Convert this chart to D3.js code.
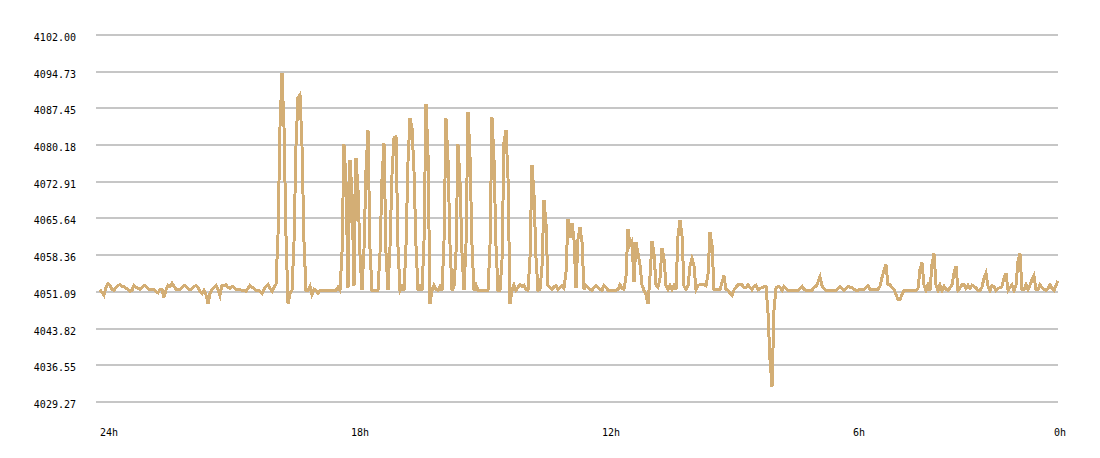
<!DOCTYPE html>
<html>
<head>
<meta charset="utf-8">
<script src="https://cdn.jsdelivr.net/npm/d3@7"></script>
<style>
body { margin: 0; background: #fff; }
</style>
</head>
<body>
<div id="area"></div>
<script>
var width = 1100;
var height = 458;

// one value every ~3 min, oldest first
var values = [
4051.5,4051.0,4050.4,4052.0,4052.7,4052.3,4051.6,4051.4,4052.0,4052.4,4052.5,4052.2,4052.2,4051.8,4051.6,4051.2,4051.4,4052.4,4052.0,4051.8,
4051.6,4052.0,4052.4,4052.2,4051.8,4051.5,4051.6,4051.5,4051.2,4050.9,4051.6,4051.6,4050.0,4051.5,4052.4,4052.2,4052.8,4052.2,4051.6,4051.6,
4051.6,4052.0,4052.4,4052.2,4051.8,4051.5,4051.8,4052.2,4052.3,4052.0,4051.1,4050.7,4051.4,4050.5,4048.8,4050.8,4051.6,4052.0,4052.4,4051.6,
4050.4,4052.4,4052.4,4052.5,4052.0,4051.8,4052.2,4052.0,4051.6,4051.5,4051.5,4051.4,4051.4,4051.2,4051.8,4052.4,4052.0,4051.8,4051.4,4051.4,
4051.2,4050.8,4051.6,4052.2,4052.6,4051.8,4051.2,4052.0,4052.6,4062.4,4083.8,4094.5,4083.8,4062.2,4048.8,4050.8,4051.4,4061.0,4080.0,4089.6,
4090.2,4080.0,4061.0,4051.4,4051.4,4052.2,4050.6,4051.6,4051.4,4050.8,4051.4,4051.4,4051.4,4051.4,4051.4,4051.4,4051.4,4051.4,4051.4,4052.0,
4051.4,4058.8,4080.3,4073.0,4051.8,4077.2,4070.7,4052.2,4077.6,4071.3,4058.5,4051.4,4059.6,4075.2,4083.2,4059.6,4051.4,4051.4,4051.4,4051.4,
4058.8,4073.3,4080.6,4058.8,4051.4,4060.0,4074.3,4081.6,4081.8,4060.0,4051.4,4052.2,4051.4,4060.2,4076.9,4085.5,4083.5,4075.0,4060.2,4051.4,
4052.2,4051.4,4061.0,4088.3,4078.6,4048.7,4051.4,4052.4,4051.6,4051.4,4052.2,4051.4,4061.0,4085.5,4077.3,4060.5,4051.4,4052.2,4058.8,4080.3,
4073.0,4058.8,4051.4,4060.4,4086.7,4078.0,4060.4,4051.4,4052.5,4051.4,4051.4,4051.4,4051.4,4051.4,4051.4,4060.2,4085.7,4077.3,4060.2,4051.4,
4051.4,4057.4,4080.8,4083.2,4073.6,4048.7,4051.4,4052.5,4051.4,4052.0,4052.5,4052.2,4052.4,4051.6,4051.4,4057.9,4076.3,4070.3,4057.9,4051.4,
4051.6,4056.1,4069.3,4064.7,4052.3,4052.0,4051.6,4052.1,4052.3,4051.6,4051.9,4052.3,4051.8,4055.0,4065.5,4061.8,4064.8,4061.5,4051.8,4061.6,
4063.9,4061.0,4051.6,4052.4,4052.0,4051.6,4051.4,4052.0,4052.4,4052.0,4051.6,4051.4,4052.4,4052.0,4051.4,4051.4,4051.4,4051.4,4051.4,4051.6,
4052.5,4051.8,4051.6,4054.2,4063.6,4060.4,4061.1,4053.0,4061.0,4058.7,4056.5,4052.5,4051.4,4050.5,4048.7,4054.2,4061.1,4058.7,4052.4,4052.0,
4053.8,4059.7,4057.7,4052.3,4051.5,4052.3,4051.5,4052.3,4051.5,4062.2,4065.3,4062.2,4052.2,4051.6,4052.3,4056.2,4057.7,4056.2,4051.6,4052.4,
4052.5,4052.5,4052.5,4052.3,4054.5,4062.9,4060.4,4051.6,4051.5,4051.5,4051.5,4053.0,4054.3,4051.6,4051.4,4050.8,4050.4,4051.5,4052.0,4052.5,
4052.5,4052.5,4052.0,4051.9,4052.5,4052.0,4051.5,4052.2,4052.4,4051.5,4051.8,4051.9,4052.1,4052.2,4046.9,4037.6,4032.3,4047.5,4051.9,4052.2,
4052.0,4051.4,4052.2,4051.8,4051.4,4051.4,4051.4,4051.4,4051.4,4051.4,4051.8,4052.2,4051.6,4051.4,4051.4,4051.4,4051.4,4052.0,4052.2,4053.0,
4054.1,4052.3,4051.8,4051.4,4051.4,4051.4,4051.4,4051.4,4051.4,4051.8,4052.2,4051.8,4051.4,4051.8,4052.2,4052.0,4051.9,4051.6,4051.4,4051.4,
4051.6,4051.6,4051.6,4052.0,4052.3,4051.6,4051.5,4051.5,4051.5,4051.6,4052.2,4053.9,4055.4,4056.5,4052.5,4052.5,4051.9,4051.6,4050.6,4049.5,
4049.5,4050.6,4051.4,4051.4,4051.4,4051.4,4051.4,4051.4,4051.4,4051.8,4055.5,4056.9,4052.5,4051.4,4052.5,4051.4,4056.5,4058.7,4052.5,4051.4,
4052.5,4051.4,4052.2,4051.6,4051.4,4051.9,4052.5,4054.8,4056.2,4051.4,4051.9,4052.5,4052.5,4051.8,4052.4,4051.8,4052.4,4052.2,4051.9,4051.4,
4051.4,4052.0,4053.8,4054.8,4052.2,4051.4,4052.3,4052.2,4051.4,4051.8,4051.9,4052.2,4053.8,4054.8,4051.4,4052.0,4052.5,4051.4,4052.4,4057.1,
4058.7,4051.6,4051.5,4052.5,4051.6,4052.4,4053.5,4054.3,4051.5,4051.6,4052.5,4052.0,4051.6,4051.4,4051.8,4052.5,4051.8,4051.4,4052.4,4053.3
];

var yTicks = [4029.27, 4036.55, 4043.82, 4051.09, 4058.36, 4065.64, 4072.91, 4080.18, 4087.45, 4094.73, 4102.00];
var xTickHours = [24, 18, 12, 6, 0];
var xTickLabels = ["24h", "18h", "12h", "6h", "0h"];

var gridLeft = 96, gridRight = 1058;

var y = d3.scaleLinear()
    .domain([4029.27, 4102.00])
    .range([402, 35]);

var x = d3.scaleLinear()
    .domain([0, values.length - 1])
    .range([100, 1058]);

var xHour = d3.scaleLinear()
    .domain([24, 0])
    .range([100, 1104]);

var svg = d3.select("#area").append("svg")
    .attr("width", width)
    .attr("height", height)
    .style("display", "block");

svg.append("rect") // background
    .attr("width", "100%")
    .attr("height", "100%")
    .attr("fill", "#ffffff");

// y axis + grid
var yAxis = svg.append("g")
    .attr("transform", "translate(" + gridLeft + ",0)")
    .call(d3.axisLeft(y)
        .tickValues(yTicks)
        .tickSize(-(gridRight - gridLeft))
        .tickPadding(20)
        .offset(0)
        .tickFormat(d3.format(".2f")));

yAxis.select(".domain").remove();
yAxis.selectAll(".tick line")
    .attr("stroke", "#c6c6c6")
    .attr("stroke-width", 2)
    .style("shape-rendering", "crispEdges");
yAxis.selectAll(".tick text")
    .attr("dy", "0.6em")
    .attr("fill", "#000")
    .style("font-family", "'DejaVu Sans Mono', monospace")
    .style("font-size", "10px");

// x labels
svg.append("g")
    .selectAll("text")
    .data(xTickHours)
    .enter().append("text")
    .attr("x", function(d) { return Math.min(xHour(d), 1054); })
    .attr("y", 436)
    .attr("fill", "#000")
    .style("font-family", "'DejaVu Sans Mono', monospace")
    .style("font-size", "10px")
    .text(function(d, i) { return xTickLabels[i]; });

// the line
var line = d3.line()
    .x(function(d, i) { return x(i); })
    .y(function(d) { return y(d); });

svg.append("path")
    .datum(values)
    .attr("d", line)
    .attr("fill", "none")
    .attr("stroke", "#d3ae75")
    .attr("stroke-width", 3)
    .style("shape-rendering", "crispEdges");
</script>
</body>
</html>
